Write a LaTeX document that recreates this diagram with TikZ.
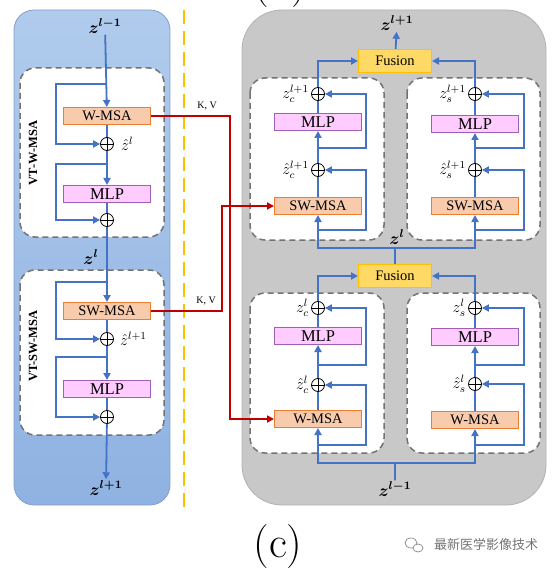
\documentclass[tikz,border=0pt]{standalone}
\usepackage{amsmath}
\usepackage{bm}
\usepackage{fontspec}
\usepackage{xcolor}
\usepackage{tikz}
\usetikzlibrary{positioning, calc, arrows.meta, backgrounds}
\newfontfamily\tnr{Liberation Serif}
\newfontfamily\cjk{Noto Sans CJK SC}
\definecolor{FlowBlue}{RGB}{68,114,196}
\definecolor{KVRed}{RGB}{192,0,0}
\definecolor{SepOrange}{RGB}{255,192,0}
\definecolor{MsaFill}{RGB}{248,203,173}
\definecolor{MsaLine}{RGB}{237,125,49}
\definecolor{MlpFill}{RGB}{255,204,255}
\definecolor{MlpLine}{RGB}{160,94,181}
\definecolor{FusFill}{RGB}{255,217,102}
\definecolor{FusLine}{RGB}{255,192,0}
\definecolor{PanelGray}{RGB}{200,200,200}
\definecolor{PanelBlueTop}{RGB}{176,203,236}
\definecolor{PanelBlueBot}{RGB}{143,178,226}
\tikzset{
    msanode/.style={
        draw=MsaLine, fill=MsaFill, line width=1pt, minimum width=87pt,
        minimum height=17pt, inner sep=0pt, font=\tnr\fontsize{14.5}{14.5}\selectfont
    },
    mlpnode/.style={
        msanode, draw=MlpLine, fill=MlpFill, font=\tnr\fontsize{16.5}{16.5}\selectfont
    },
    fusnode/.style={
        draw=FusLine, fill=FusFill, line width=1pt, minimum width=73pt,
        minimum height=23pt, inner sep=0pt, font=\tnr\fontsize{14.5}{14.5}\selectfont
    },
    addnode/.style={
        circle, draw, fill=white, line width=0.8pt, minimum size=13pt, inner sep=0pt,
        path picture={\draw[line width=0.8pt] (path picture bounding box.north) -- (path picture bounding box.south)
            (path picture bounding box.west) -- (path picture bounding box.east);}
    },
    flowline/.style={
        line width=1.8pt, FlowBlue
    },
    flow/.style={
        ->, flowline
    },
    kvline/.style={
        ->, line width=1.8pt, KVRed
    },
    innerbox/.style={
        draw=black!55, fill=white, line width=1.5pt, dash pattern=on 6pt off 4pt,
        rounded corners=15pt
    },
    zbold/.style={
        inner sep=1pt, font=\fontsize{12}{12}\selectfont, scale=1.42
    },
    zlbl/.style={
        inner sep=0pt, font=\fontsize{12}{12}\selectfont, scale=1.33
    },
    vlabel/.style={
        rotate=90, font=\tnr\bfseries\fontsize{12.5}{12.5}\selectfont
    },
    kvlabel/.style={
        font=\tnr\fontsize{10}{10}\selectfont
    },
    capnode/.style={
        inner sep=0pt, font=\fontsize{44}{44}\selectfont
    }
}
\begin{document}
\begin{tikzpicture}[x=1pt, y=-1pt, >={Triangle[length=7pt,width=7pt]}]
    \useasboundingbox (0,0) rectangle (554,569);

    % --- caption of the part above, cut by the page ---
    \begin{scope}
        \clip (0,0) rectangle (554,569);
        \node[capnode, anchor=base] (capB) at (280,-3) {(b)};
    \end{scope}

    % --- panels ---
    \path[draw=PanelBlueBot!90!black, line width=0.8pt, top color=PanelBlueTop, bottom color=PanelBlueBot,
        rounded corners=20pt] (14,10) rectangle (170,505);
    \path[draw=black!30, line width=0.8pt, fill=PanelGray, rounded corners=40pt] (242,10) rectangle (546,505);
    \draw[SepOrange, line width=2.5pt, dash pattern=on 14pt off 7pt] (184,10) -- (184,512);

    \path[innerbox] (20,68) rectangle (164,237);
    \path[innerbox] (20,270) rectangle (164,435);
    \path[innerbox] (250,78) rectangle (384,240);
    \path[innerbox] (407,78) rectangle (540,240);
    \path[innerbox] (250,293) rectangle (384,453);
    \path[innerbox] (407,293) rectangle (540,453);

    % --- left: VT-W-MSA / VT-SW-MSA ---
    \node[vlabel] (vtw) at (33,153) {VT-W-MSA};
    \node[vlabel] (vtsw) at (33,346) {VT-SW-MSA};

    \node[zbold] (zinL) at (105,26) {$\bm{z^{l-1}}$};
    \node[msanode] (wmsaL) at (107,116) {W-MSA};
    \node[addnode] (addA) at (107,144) {};
    \node[mlpnode] (mlpA) at (107,194) {MLP};
    \node[addnode] (addB) at (107,220) {};
    \node[zbold] (zmidL) at (91,257) {$\bm{z^{l}}$};
    \node[msanode] (swmsaL) at (107,311) {SW-MSA};
    \node[addnode] (addC) at (107,339) {};
    \node[mlpnode] (mlpB) at (107,389) {MLP};
    \node[addnode] (addD) at (107,417) {};
    \node[zbold] (zoutL) at (106,488) {$\bm{z^{l+1}}$};
    \node[zlbl, right=7pt of addA] (hatA) {$\hat{z}^{l}$};
    \node[zlbl, right=6pt of addC] (hatC) {$\hat{z}^{l+1}$};

    \coordinate (brA) at (107,84);
    \coordinate (brB) at (107,164);
    \coordinate (brC) at (107,282);
    \coordinate (brD) at (107,357);

    \draw[flow] (zinL) -- (wmsaL);
    \draw[flowline] (wmsaL) -- (addA);
    \draw[flow] (addA) -- (mlpA);
    \draw[flowline] (mlpA) -- (addB);
    \draw[flow] (addB) -- (swmsaL);
    \draw[flowline] (swmsaL) -- (addC);
    \draw[flow] (addC) -- (mlpB);
    \draw[flowline] (mlpB) -- (addD);
    \draw[flow] (addD) -- (zoutL);
    \draw[flow] (brA) -- ++(-51,0) |- (addA);
    \draw[flow] (brB) -- ++(-51,0) |- (addB);
    \draw[flow] (brC) -- ++(-51,0) |- (addC);
    \draw[flow] (brD) -- ++(-51,0) |- (addD);

    % --- right: top half ---
    \node[fusnode] (fusT) at (395,61) {Fusion};
    \node[zbold] (zoutR) at (397,23) {$\bm{z^{l+1}}$};
    \draw[flow] (fusT) -- (zoutR);

    \node[msanode] (swmsaC) at (318,206) {SW-MSA};
    \node[addnode] (addCh) at (318,170) {};
    \node[mlpnode] (mlpC) at (318,122) {MLP};
    \node[addnode] (addCt) at (318,94) {};
    \node[zlbl, left=2pt of addCt] (lblCt) {$z_c^{l+1}$};
    \node[zlbl, left=2pt of addCh] (lblCh) {$\hat{z}_c^{l+1}$};

    \node[msanode] (swmsaS) at (475,206) {SW-MSA};
    \node[addnode] (addSh) at (475,170) {};
    \node[mlpnode] (mlpS) at (475,124) {MLP};
    \node[addnode] (addSt) at (475,94) {};
    \node[zlbl, left=2pt of addSt] (lblSt) {$z_s^{l+1}$};
    \node[zlbl, left=2pt of addSh] (lblSh) {$\hat{z}_s^{l+1}$};

    \draw[flowline] (swmsaC) -- (addCh);
    \draw[flow] (addCh) -- (mlpC);
    \draw[flowline] (mlpC) -- (addCt);
    \draw[flow] (addCt) |- (fusT);
    \draw[flow] (318,230) -- (366,230) |- (addCh);
    \draw[flow] (318,148) -- (366,148) |- (addCt);

    \draw[flowline] (swmsaS) -- (addSh);
    \draw[flow] (addSh) -- (mlpS);
    \draw[flowline] (mlpS) -- (addSt);
    \draw[flow] (addSt) |- (fusT);
    \draw[flow] (475,230) -- (524,230) |- (addSh);
    \draw[flow] (475,148) -- (524,148) |- (addSt);

    % --- right: bottom half ---
    \node[fusnode] (fusB) at (395,276) {Fusion};
    \node[zbold] (zmidR) at (397,237) {$\bm{z^{l}}$};
    \coordinate (jTop) at (395,248);
    \draw[flowline] (fusB) -- (jTop);
    \draw[flow] (jTop) -| (swmsaC);
    \draw[flow] (jTop) -| (swmsaS);

    \node[msanode] (wmsaC) at (318,419) {W-MSA};
    \node[addnode] (addCh2) at (318,385) {};
    \node[mlpnode] (mlpC2) at (318,336) {MLP};
    \node[addnode] (addCt2) at (318,308) {};
    \node[zlbl, left=2pt of addCt2] (lblCt2) {$z_c^{l}$};
    \node[zlbl, left=2pt of addCh2] (lblCh2) {$\hat{z}_c^{l}$};

    \node[msanode] (wmsaS) at (475,420) {W-MSA};
    \node[addnode] (addSh2) at (475,384) {};
    \node[mlpnode] (mlpS2) at (475,337) {MLP};
    \node[addnode] (addSt2) at (475,308) {};
    \node[zlbl, left=2pt of addSt2] (lblSt2) {$z_s^{l}$};
    \node[zlbl, left=2pt of addSh2] (lblSh2) {$\hat{z}_s^{l}$};

    \draw[flowline] (wmsaC) -- (addCh2);
    \draw[flow] (addCh2) -- (mlpC2);
    \draw[flowline] (mlpC2) -- (addCt2);
    \draw[flow] (addCt2) |- (fusB);
    \draw[flow] (318,445) -- (366,445) |- (addCh2);
    \draw[flow] (318,365) -- (366,365) |- (addCt2);

    \draw[flowline] (wmsaS) -- (addSh2);
    \draw[flow] (addSh2) -- (mlpS2);
    \draw[flowline] (mlpS2) -- (addSt2);
    \draw[flow] (addSt2) |- (fusB);
    \draw[flow] (475,445) -- (524,445) |- (addSh2);
    \draw[flow] (475,365) -- (524,365) |- (addSt2);

    \node[zbold] (zinR) at (395,489) {$\bm{z^{l-1}}$};
    \coordinate (jBot) at (395,463);
    \draw[flowline] (zinR) -- (jBot);
    \draw[flow] (jBot) -| (wmsaC);
    \draw[flow] (jBot) -| (wmsaS);

    % --- K, V links ---
    \coordinate (kvA) at (230,116);
    \coordinate (kvB) at (222,311);
    \draw[kvline] (wmsaL) -- (kvA) |- (wmsaC);
    \draw[kvline] (swmsaL) -- (kvB) |- (swmsaC);
    \node[kvlabel] (kvtxtA) at (207,106) {K, V};
    \node[kvlabel] (kvtxtB) at (206,301) {K, V};

    % --- caption and mark ---
    \node[capnode, anchor=base] (capC) at (278,557) {(c)};
    \draw[black!45, line width=0.7pt] (411,543) ellipse (6pt and 5pt);
    \draw[black!45, line width=0.7pt, fill=white] (418,548) ellipse (5pt and 4pt);
    \node[font=\cjk\fontsize{13}{13}\selectfont, text=black!55, inner sep=0pt] (wmark) at (486,545) {最新医学影像技术};
\end{tikzpicture}
\end{document}
